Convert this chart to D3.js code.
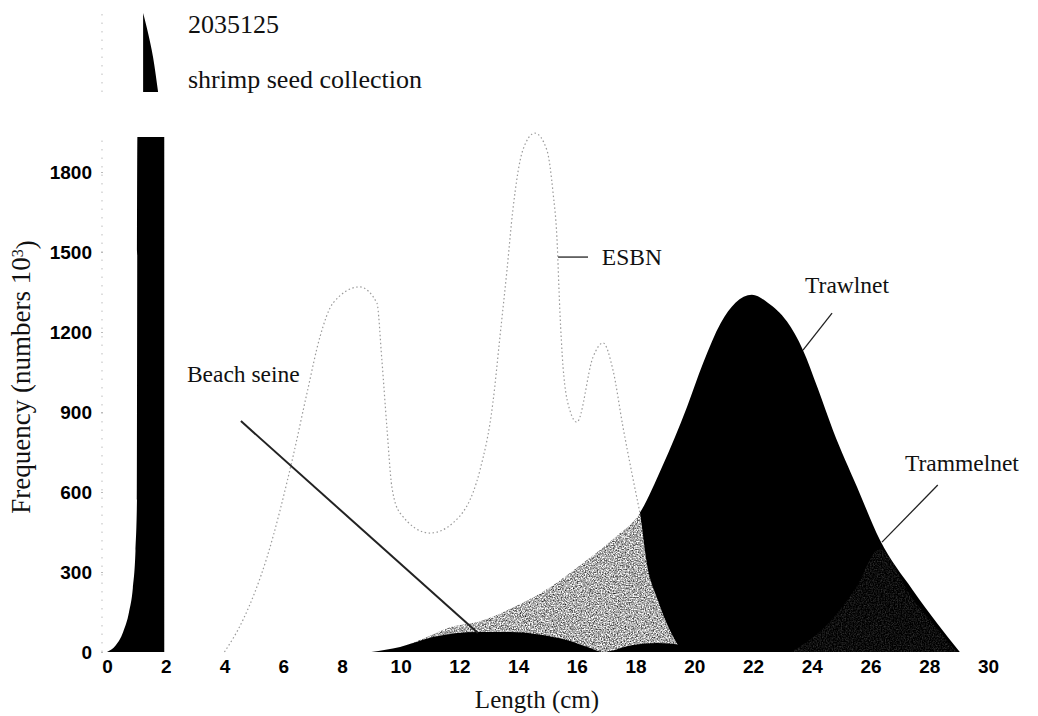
<!DOCTYPE html>
<html>
<head>
<meta charset="utf-8">
<script src="https://cdn.jsdelivr.net/npm/d3@7"></script>
<style>
  html, body { margin: 0; padding: 0; background: #fff; }
  svg { display: block; }
  .serif { font-family: "Liberation Serif", "Times New Roman", serif; fill: #111; }
  .tick-label { font-family: "Liberation Sans", Arial, sans-serif; font-weight: bold; fill: #000; }
</style>
</head>
<body>
<svg id="chart" width="1038" height="716"></svg>
<script>
// ---------- data ----------
const lengthTicks = [0, 2, 4, 6, 8, 10, 12, 14, 16, 18, 20, 22, 24, 26, 28, 30];
const freqTicks = [0, 300, 600, 900, 1200, 1500, 1800];

const axisBreakValue = 1931;          // level where the y axis is broken
const shrimpPeakLabel = "2035125";
const shrimpPeakValue = 2035.125;

const shrimpLen  = [0.0, 0.3, 0.55, 0.75, 0.88, 0.97, 1.02, 1.035, 1.95];
const shrimpFreq = [0, 25, 75, 150, 240, 380, 570, 1931, 1931];

const shrimpPeakLen  = [1.23, 1.40, 1.57, 1.74];
const shrimpPeakFreq = [2035.125, 2008.5, 1976.6, 1931];

const esbnLen  = [4.0, 4.63, 5.45, 6.33, 6.81, 7.25, 7.7, 8.6, 9.19, 9.36, 9.53, 9.7, 9.98, 11.0, 11.78, 12.7, 13.14, 13.38, 13.62, 13.82, 14.16, 14.57, 14.98, 15.19, 15.32, 15.42, 15.53, 15.76, 16.0, 16.55, 16.89, 17.23, 17.57, 17.9, 18.15, 18.38, 18.72, 19.17, 19.6, 19.8];
const esbnFreq = [0, 120, 356, 731, 971, 1181, 1309, 1369, 1309, 1095, 844, 619, 521, 446, 484, 682, 934, 1181, 1432, 1657, 1882, 1946, 1882, 1721, 1556, 1282, 1069, 907, 862, 1106, 1159, 1057, 844, 656, 521, 334, 206, 82, 8, 0];

const trawlLen  = [9.6, 10.9, 11.7, 12.6, 14.0, 15.1, 16.2, 17.4, 18.05, 18.9, 19.75, 20.3, 20.9, 21.4, 21.96, 22.5, 23.15, 23.7, 24.2, 24.72, 25.54, 26.32, 27.44, 28.26, 29.04];
const trawlFreq = [0, 56, 94, 112, 176, 244, 333, 439, 506, 694, 919, 1084, 1234, 1310, 1340, 1310, 1240, 1132, 990, 832, 619, 420, 232, 109, 0];

const trammelLen  = [23.3, 24.5, 25.5, 26.3, 27.4, 28.25, 28.95];
const trammelFreq = [0, 100, 240, 385, 205, 90, 0];

const beachLen  = [9.0, 9.98, 11.1, 12.6, 13.72, 14.64, 15.66, 16.45, 16.89, 17.9, 18.73, 19.6, 20.3];
const beachFreq = [0, 19, 56, 75, 75, 67, 45, 15, 0, 26, 34, 26, 0];

// annotation anchors in data units [length, frequency]
const labels = [
  { text: "Beach seine", at: [2.72, 1012], from: [4.56, 866],  to: [12.63, 71] },
  { text: "ESBN",        at: [16.85, 1451], from: [15.36, 1481], to: [16.38, 1481] },
  { text: "Trawlnet",    at: [23.77, 1345], from: [24.69, 1271], to: [23.70, 1132] },
  { text: "Trammelnet",  at: [27.17, 680],  from: [28.29, 626],  to: [26.39, 412] }
];

// ---------- scales ----------
const svg = d3.select("#chart");
const x = d3.scaleLinear().domain([0, 30]).range([107, 988]);
const y = d3.scaleLinear().domain([0, 1800]).range([652, 172]);
const yTop = d3.scaleLinear().domain([axisBreakValue, shrimpPeakValue]).range([92, 13]);

const zip = (a, b) => a.map((v, i) => [v, b[i]]);
const area = d3.area().x(d => x(d[0])).y0(y(0)).y1(d => y(d[1])).curve(d3.curveMonotoneX);
const line = d3.line().x(d => x(d[0])).y(d => y(d[1])).curve(d3.curveMonotoneX);

// grain filters (printed stipple look)
const defs = svg.append("defs");
function grain(id, seed, a, b) {
  const f = defs.append("filter").attr("id", id)
    .attr("x", 0).attr("y", 0).attr("width", 1).attr("height", 1);
  f.append("feTurbulence").attr("type", "fractalNoise").attr("baseFrequency", 0.75)
    .attr("numOctaves", 2).attr("seed", seed).attr("result", "noise");
  f.append("feColorMatrix").attr("in", "noise").attr("type", "matrix")
    .attr("values", `0 0 0 0 1  0 0 0 0 1  0 0 0 0 1  ${a} 0 0 0 ${b}`).attr("result", "wn");
  f.append("feComposite").attr("in", "wn").attr("in2", "SourceGraphic").attr("operator", "in");
}
grain("grainLight", 7, 1.6, -0.12);
grain("grainDark", 3, 0.4, -0.15);

// ---------- y axis (faint dotted) ----------
svg.append("line")
  .attr("x1", 102).attr("x2", 102)
  .attr("y1", y(0)).attr("y2", y(axisBreakValue))
  .attr("stroke", "#c8c8c8").attr("stroke-width", 1.2)
  .attr("stroke-dasharray", "1.5,7");
svg.append("line")
  .attr("x1", 102).attr("x2", 102)
  .attr("y1", yTop(axisBreakValue)).attr("y2", yTop(shrimpPeakValue))
  .attr("stroke", "#c8c8c8").attr("stroke-width", 1.2)
  .attr("stroke-dasharray", "1.5,7");

const yAxis = d3.axisLeft(y).tickValues(freqTicks).tickFormat(d3.format("d"))
  .tickSize(2).tickPadding(9);
const gy = svg.append("g").attr("transform", "translate(103,0)").call(yAxis);
gy.select(".domain").remove();
gy.selectAll(".tick line").attr("stroke", "#bbb");
gy.selectAll(".tick text").attr("class", "tick-label").style("font-size", "19px")
  .attr("fill", "#000").attr("dy", "0.36em");

// ---------- x axis ----------
const xAxis = d3.axisBottom(x).tickValues(lengthTicks).tickFormat(d3.format("d"))
  .tickSize(0).tickPadding(8);
const gx = svg.append("g").attr("transform", `translate(0,${y(0)})`).call(xAxis);
gx.select(".domain").remove();
gx.selectAll(".tick text").attr("class", "tick-label").style("font-size", "19px")
  .attr("fill", "#000");

// ---------- areas ----------
// shrimp seed collection bar (lower part, up to axis break)
svg.append("path").datum(zip(shrimpLen, shrimpFreq))
  .attr("d", area).attr("fill", "#000");

// shrimp peak above axis break
const areaTop = d3.area().x(d => x(d[0])).y0(yTop(axisBreakValue)).y1(d => yTop(d[1])).curve(d3.curveMonotoneX);
svg.append("path").datum(zip(shrimpPeakLen, shrimpPeakFreq))
  .attr("d", areaTop).attr("fill", "#000");

// trawlnet
svg.append("path").datum(zip(trawlLen, trawlFreq))
  .attr("d", area).attr("fill", "#000");

// trammelnet (dark stipple over the trawlnet)
svg.append("path").datum(zip(trammelLen, trammelFreq))
  .attr("d", area).attr("fill", "#fff").attr("filter", "url(#grainDark)");

// ESBN: translucent stippled white fill over the others, dotted outline
svg.append("path").datum(zip(esbnLen, esbnFreq))
  .attr("d", area).attr("fill", "#fff").attr("filter", "url(#grainLight)");
svg.append("path").datum(zip(esbnLen, esbnFreq).filter(d => d[0] <= 18.2))
  .attr("d", line).attr("fill", "none")
  .attr("stroke", "#9a9a9a").attr("stroke-width", 1.2)
  .attr("stroke-dasharray", "1.5,2.5");

// beach seine
svg.append("path").datum(zip(beachLen, beachFreq))
  .attr("d", area).attr("fill", "#000");

// ---------- annotations ----------
labels.forEach(l => {
  svg.append("line")
    .attr("x1", x(l.from[0])).attr("y1", y(l.from[1]))
    .attr("x2", x(l.to[0])).attr("y2", y(l.to[1]))
    .attr("stroke", "#222").attr("stroke-width", l.text === "Beach seine" ? 2 : 1.3);
  svg.append("text").attr("class", "serif")
    .attr("x", x(l.at[0])).attr("y", y(l.at[1]))
    .style("font-size", "23.5px")
    .text(l.text);
});

// legend text for the broken bar
svg.append("text").attr("class", "serif")
  .attr("x", 188).attr("y", 33)
  .style("font-size", "26px").text(shrimpPeakLabel);
svg.append("text").attr("class", "serif")
  .attr("x", 188).attr("y", 88)
  .style("font-size", "26px").text("shrimp seed collection");

// axis titles
svg.append("text").attr("class", "serif")
  .attr("text-anchor", "middle")
  .attr("x", 537).attr("y", 708)
  .style("font-size", "25px").text("Length (cm)");

const yt = svg.append("text").attr("class", "serif")
  .attr("text-anchor", "middle")
  .attr("transform", "translate(30,377) rotate(-90)")
  .style("font-size", "27px");
yt.append("tspan").text("Frequency (numbers 10");
yt.append("tspan").attr("dy", "-0.45em").style("font-size", "16px").text("3");
yt.append("tspan").attr("dy", "0.45em").text(")");
</script>
</body>
</html>
